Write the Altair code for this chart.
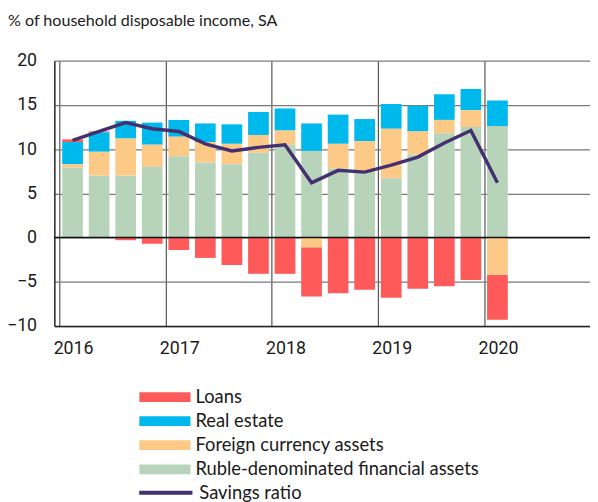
import altair as alt
import pandas as pd

quarters = ["2016Q1","2016Q2","2016Q3","2016Q4","2017Q1","2017Q2","2017Q3","2017Q4",
            "2018Q1","2018Q2","2018Q3","2018Q4","2019Q1","2019Q2","2019Q3","2019Q4","2020Q1"]
ruble = [7.9, 7.0, 7.0, 8.0, 9.2, 8.5, 8.3, 9.6, 10.5, 9.8, 7.8, 7.4, 6.7, 9.4, 11.8, 12.5, 12.6]
fx = [0.4, 2.7, 4.2, 2.5, 2.2, 2.3, 2.3, 2.0, 1.6, -1.1, 2.8, 3.5, 5.6, 2.6, 1.5, 1.9, -4.2]
real_estate = [2.5, 2.2, 2.0, 2.5, 1.9, 2.1, 2.2, 2.6, 2.5, 3.1, 3.3, 2.5, 2.8, 2.9, 2.9, 2.4, 2.9]
loans = [0.3, 0.1, -0.3, -0.7, -1.4, -2.3, -3.1, -4.1, -4.1, -5.55, -6.3, -5.9, -6.8, -5.8, -5.5, -4.8, -5.1]
savings = [11.0, 12.0, 13.0, 12.3, 12.0, 10.6, 9.8, 10.2, 10.5, 6.2, 7.6, 7.4, 8.2, 9.1, 10.7, 12.1, 6.2]

series_names = ["Loans", "Real estate", "Foreign currency assets", "Ruble-denominated financial assets"]
series_colors = ["#FF5A5A", "#00B9EC", "#FDC986", "#B7D4BA"]
stack_order = {"Ruble-denominated financial assets": 1, "Foreign currency assets": 2,
               "Real estate": 3, "Loans": 4}

def qpos(q):
    y, n = int(q[:4]), int(q[5])
    return y + (n - 0.5) / 4

rows = []
for i, q in enumerate(quarters):
    for name, vals in zip(series_names, [loans, real_estate, fx, ruble]):
        rows.append({"t": qpos(q), "series": name, "value": vals[i], "ord": stack_order[name]})
bars_df = pd.DataFrame(rows)
line_df = pd.DataFrame({"t": [qpos(q) for q in quarters], "value": savings,
                        "s": ["Savings ratio"] * len(quarters)})

FONT_AX = "Roboto"
FONT_TX = "Lato"

xscale = alt.Scale(domain=[2016, 2020.95], nice=False, zero=False)
yscale = alt.Scale(domain=[-10, 20], nice=False)

bars = alt.Chart(bars_df).mark_bar(size=21).encode(
    x=alt.X("t:Q", scale=xscale,
            axis=alt.Axis(values=[2016, 2017, 2018, 2019, 2020], format="d", title=None,
                          grid=True, gridColor="#555555", gridWidth=1.2, ticks=False,
                          domainColor="#222222", domainWidth=1.5,
                          labelFont=FONT_AX, labelFontSize=18, labelColor="#1a1a1a",
                          labelPadding=14, labelOffset=14, labelFlush=False)),
    y=alt.Y("value:Q", scale=yscale, stack="zero",
            axis=alt.Axis(values=[-10, -5, 0, 5, 10, 15, 20], title=None, grid=True,
                          gridColor="#7a7a7a", gridWidth=1.3, ticks=False,
                          domainColor="#222222", domainWidth=1.5,
                          labelFont=FONT_AX, labelFontSize=18, labelColor="#1a1a1a",
                          labelPadding=18)),
    fill=alt.Fill("series:N", scale=alt.Scale(domain=series_names, range=series_colors),
                  legend=alt.Legend(title=None, orient="none", legendX=86, legendY=333,
                                    symbolType="M-1,-0.19H1V0.19H-1Z", symbolSize=2704,
                                    clipHeight=16, rowPadding=5.4, labelOffset=5, labelLimit=400,
                                    labelFont=FONT_TX, labelFontSize=18.6, labelColor="#1a1a1a",
                                    symbolStrokeWidth=0, symbolOpacity=1)),
    order=alt.Order("ord:Q", sort="ascending"),
)

zero = alt.Chart(pd.DataFrame({"v": [0]})).mark_rule(color="#111111", strokeWidth=1.5).encode(
    y=alt.Y("v:Q", scale=yscale))

line = alt.Chart(line_df).mark_line(strokeWidth=3.5).encode(
    x=alt.X("t:Q", scale=xscale),
    y=alt.Y("value:Q", scale=yscale),
    stroke=alt.Stroke("s:N", scale=alt.Scale(range=["#45306F"]),
                      legend=alt.Legend(title=None, orient="none", legendX=84, legendY=430,
                                        symbolType="stroke", symbolSize=2916,
                                        symbolStrokeWidth=4, clipHeight=16, labelOffset=5,
                                        labelLimit=400,
                                        labelFont=FONT_TX, labelFontSize=18.6,
                                        labelColor="#1a1a1a")),
)

chart = alt.layer(bars, zero, line).resolve_legend(fill="independent", stroke="independent").properties(
    width=543, height=269,
    autosize=alt.AutoSizeParams(type="none"),
    padding={"left": 47, "top": 50, "right": 0, "bottom": 175},
    title=alt.TitleParams("% of household disposable income, SA", anchor="start", frame="group",
                          dx=-47, offset=23, font=FONT_TX, fontSize=16.3, fontWeight="normal",
                          color="#1a1a1a"),
).configure_view(stroke=None)

chart.save("out.html", embed_options={"renderer": "svg", "actions": False})
